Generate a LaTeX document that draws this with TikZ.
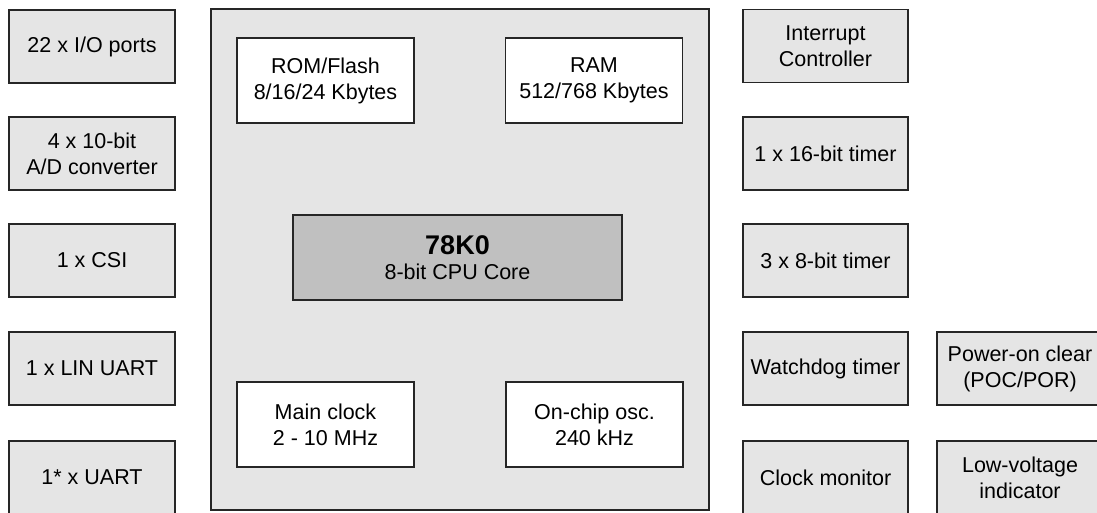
\documentclass[tikz,border=0pt]{standalone}
\usepackage{fontspec}
\setmainfont{Liberation Sans}
\definecolor{boxfill}{RGB}{229,229,229}
\definecolor{cpufill}{RGB}{192,192,192}
\definecolor{edge}{RGB}{38,38,38}
\begin{document}
\begin{tikzpicture}[x=1pt,y=-1pt,
  blk/.style={draw=edge,line width=1.3pt,fill=boxfill,rectangle,align=center,
    inner sep=0pt,font=\fontsize{21.5}{26}\selectfont,text=black},
  side/.style={blk,minimum width=166pt,minimum height=73pt},
  mem/.style={blk,fill=white,minimum width=177pt,minimum height=85pt}]
\clip (0,0) rectangle (1097,512);
\fill[white] (0,0) rectangle (1097,512);
% main chip
\node[blk,minimum width=498pt,minimum height=501pt] (chip) at (460,259.5) {};
\node[mem] (rom) at (325.5,80.5) {ROM/Flash\\8/16/24 Kbytes};
\node[mem] (ram) at (594,80.5) {RAM\\512/768 Kbytes};
\node[mem] (mclk) at (325.5,424.5) {Main clock\\2 - 10 MHz};
\node[mem] (osc) at (594.5,424.5) {On-chip osc.\\240 kHz};
\node[blk,fill=cpufill,minimum width=329pt,minimum height=85pt] (cpu) at (457.5,257.5)
  {{\fontsize{27}{29}\selectfont\bfseries 78K0}\\[-1pt]8-bit CPU Core};
% left column
\node[side] (io) at (92,46.5) {22 x I/O ports};
\node[side] (adc) at (92,153.5) {4 x 10-bit\\A/D converter};
\node[side] (csi) at (92,260.5) {1 x CSI};
\node[side] (lin) at (92,368.5) {1 x LIN UART};
\node[side] (uart) at (92,477.5) {1* x UART};
% right column
\node[side,minimum width=165pt] (irq) at (825.5,46) {Interrupt\\Controller};
\node[side,minimum width=165pt] (t16) at (825.5,153.5) {1 x 16-bit timer};
\node[side,minimum width=165pt] (t8) at (825.5,260.5) {3 x 8-bit timer};
\node[side,minimum width=165pt] (wdt) at (825.5,368.5) {Watchdog timer};
\node[side,minimum width=165pt] (cmon) at (825.5,477.5) {Clock monitor};
% far right column
\node[side] (poc) at (1020,368.5) {Power-on clear\\(POC/POR)};
\node[side] (lvi) at (1020,477.5) {Low-voltage\\indicator};
\end{tikzpicture}
\end{document}
